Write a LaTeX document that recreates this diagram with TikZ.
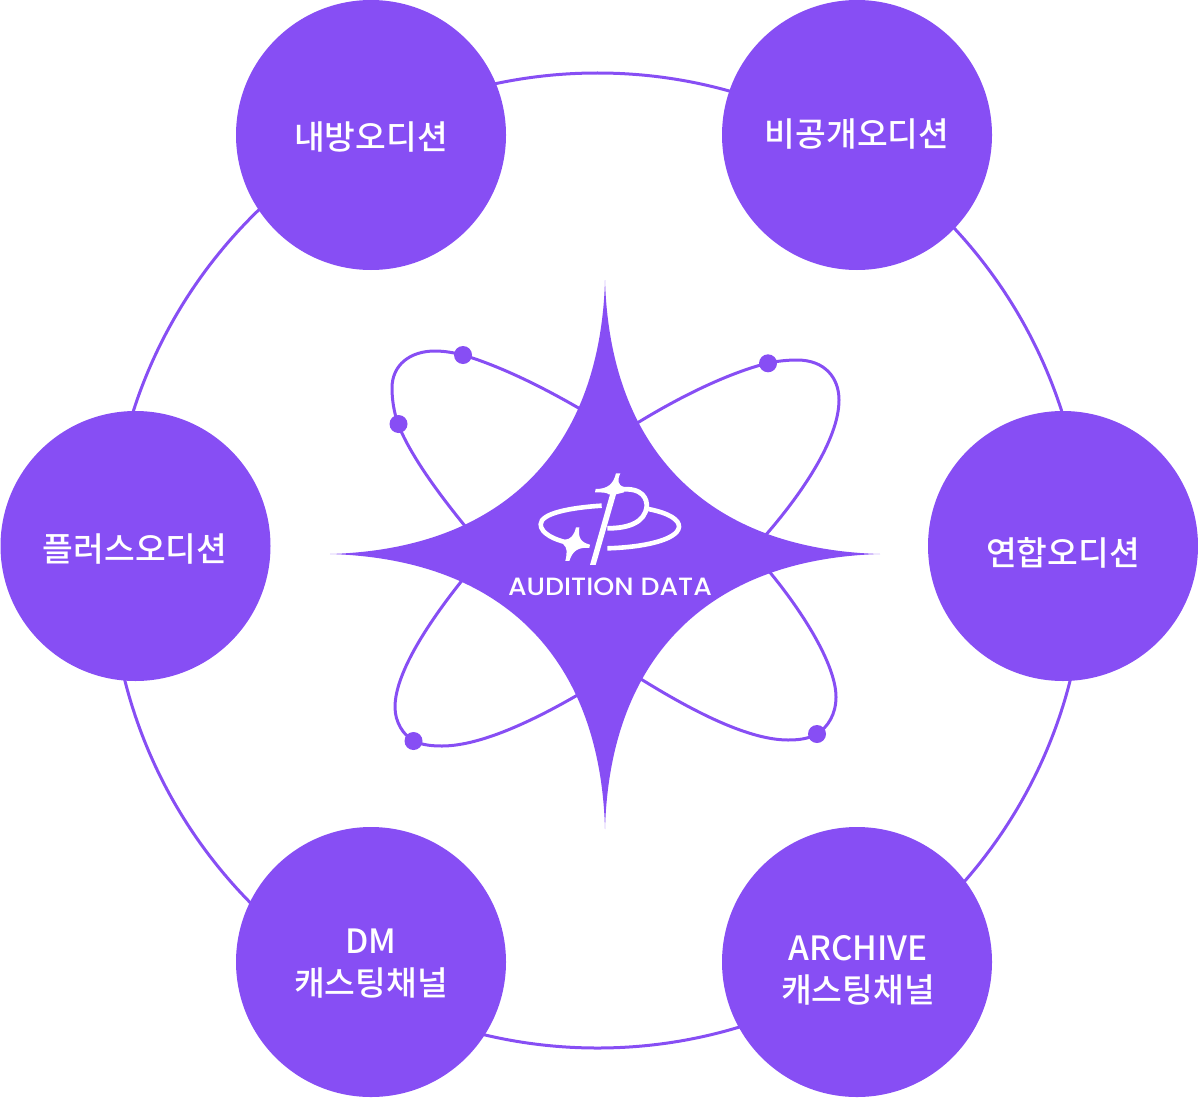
\documentclass[tikz,border=0pt]{standalone}
\usepackage{fontspec}
\newfontfamily\kr{Noto Sans CJK KR Medium}
\newfontfamily\lat{Poppins Medium}
\definecolor{vio}{HTML}{874EF4}
\tikzset{
  bubble/.style={circle,fill=vio,minimum size=270pt,inner sep=0pt},
  lab/.style={text=white,font=\kr\fontsize{33.4}{42}\selectfont,align=center,inner sep=0pt},
  orbit/.style={draw=vio,line width=3pt,fill=none},
  ring/.style={draw=vio,line width=3pt},
  dotm/.style={circle,fill=vio,minimum size=18pt,inner sep=0pt},
  logoline/.style={draw=white,line width=4.6pt,line cap=butt,fill=none}
}
\begin{document}
\begin{tikzpicture}[x=1pt,y=-1pt]
\useasboundingbox (0,0) rectangle (1198,1097);
\coordinate (ringc) at (597.5,560.5);
\draw[ring] (ringc) circle (487.5pt);
\node[bubble] (b1) at (371,135) {};
\node[bubble] (b2) at (857,135) {};
\node[bubble] (b3) at (1063,546) {};
\node[bubble] (b4) at (857,962) {};
\node[bubble] (b5) at (371,962) {};
\node[bubble] (b6) at (135.5,546) {};
\node[lab] (t1) at (371,137) {내방오디션};
\node[lab] (t2) at (857,134) {비공개오디션};
\node[lab] (t3) at (1063,553) {연합오디션};
\node[lab] (t4) at (858,970) {ARCHIVE\\캐스팅채널};
\node[lab] (t5) at (371,963.5) {DM\\캐스팅채널};
\node[lab] (t6) at (135,549) {플러스오디션};
% orbits
\draw[orbit] (465,526) .. controls (434,488) and (409,452) .. (398,424)
  .. controls (394,412) and (392,400) .. (392,388)
  .. controls (392,365) and (410,351) .. (435,351)
  .. controls (445,351) and (455,353) .. (463,355)
  .. controls (503,367) and (546,389) .. (582,410);
\draw[orbit] (634,425) .. controls (676,399) and (725,374) .. (768,363)
  .. controls (778,361) and (788,360) .. (797,360)
  .. controls (825,360) and (839,378) .. (839,400)
  .. controls (839,440) and (800,496) .. (764,537);
\draw[orbit] (768,570) .. controls (803,612) and (836,665) .. (836,697)
  .. controls (836,714) and (828,727) .. (817,734)
  .. controls (808,739) and (798,740) .. (788,740)
  .. controls (745,740) and (684,706) .. (636,676);
\draw[orbit] (464,578) .. controls (431,619) and (395,672) .. (395,707)
  .. controls (395,722) and (403,735) .. (414,741)
  .. controls (422,745) and (432,746) .. (442,746)
  .. controls (483,746) and (540,717) .. (581,693);
\node[dotm] (d1) at (463,355) {};
\node[dotm] (d2) at (398.5,424) {};
\node[dotm] (d3) at (768,363.3) {};
\node[dotm] (d4) at (817,734) {};
\node[dotm] (d5) at (413.5,741) {};
% star
\fill[vio] (605,280) .. controls (610,451) and (708,549) .. (880,554)
  .. controls (708,559) and (610,657) .. (605,829)
  .. controls (600,657) and (502,559) .. (330,554)
  .. controls (502,549) and (600,451) .. (605,280) -- cycle;
% logo
\begin{scope}[shift={(530,465)},x=0.3333pt,y=-0.3333pt]
  \fill[white] (241,85) -- (259,85) -- (197,300) -- (180,300) -- cycle;
  \fill[white] (258,25) -- (271,25) .. controls (262,45) and (262,60) .. (282,66)
     -- (282,82) -- (250,90) -- (236,88) .. controls (232,83) and (220,82) .. (195,82)
     -- (197,72) .. controls (232,72) and (250,58) .. (258,25) -- cycle;
  \draw[logoline,line width=4.8pt] (270,74) .. controls (340,65) and (352,105) .. (350,125)
     .. controls (345,170) and (300,190) .. (232,190);
  \draw[logoline] (215,122) .. controls (120,128) and (32,145) .. (32,178)
     .. controls (32,205) and (75,225) .. (110,232);
  \draw[logoline] (355,132) .. controls (420,145) and (448,165) .. (447,186)
     .. controls (442,225) and (340,247) .. (232,250);
  \fill[white] (138,187) -- (148,187) .. controls (144,215) and (150,232) .. (180,239)
     -- (178,249) .. controls (146,246) and (128,256) .. (118,288)
     -- (106,288) .. controls (112,262) and (112,248) .. (100,238)
     -- (106,224) .. controls (122,222) and (132,212) .. (138,187) -- cycle;
\end{scope}
\node[inner sep=0pt,text=white,font=\lat\fontsize{25}{28}\selectfont,xscale=1.07] (aud) at (610,587) {AUDITION DATA};
\end{tikzpicture}
\end{document}
